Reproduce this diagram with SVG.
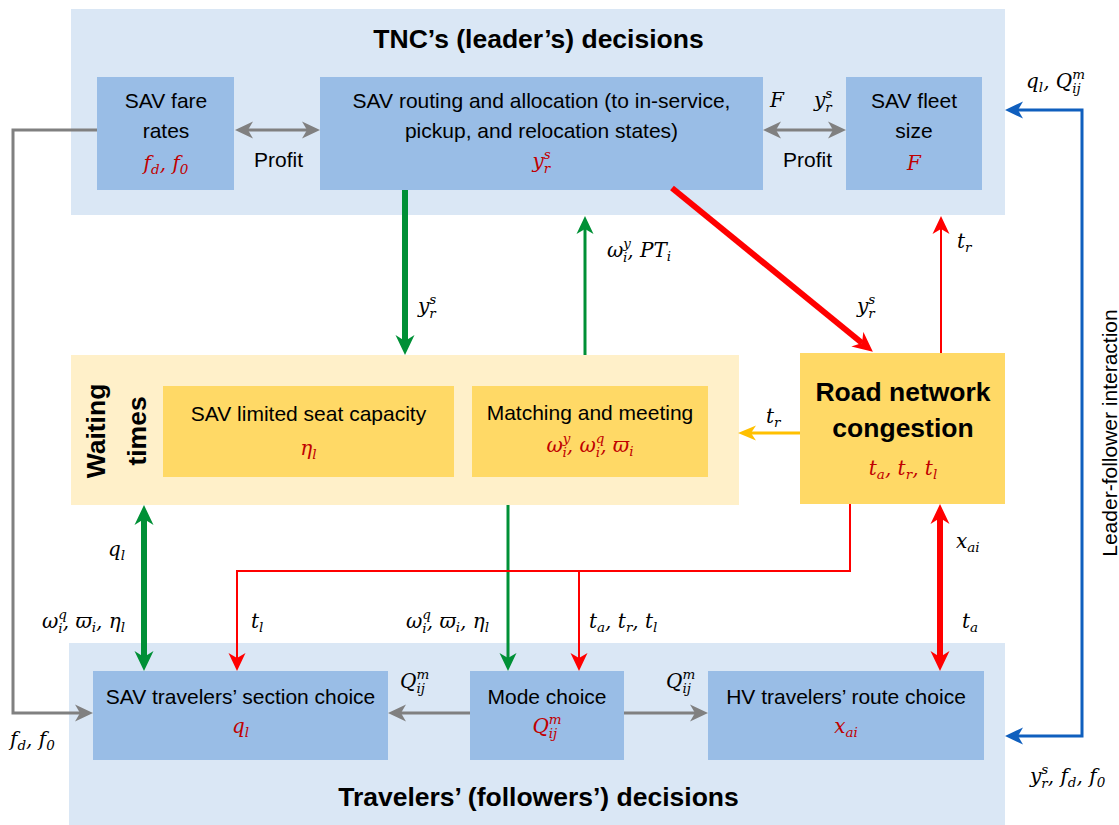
<svg xmlns="http://www.w3.org/2000/svg" width="1119" height="825" viewBox="0 0 1119 825">
  <style>
    .panel{fill:#DAE7F5}
    .bbox{fill:#99BDE6}
    .wpanel{fill:#FFF0C9}
    .ybox{fill:#FFD966}
    text{font-family:"Liberation Sans",Arial,Helvetica,sans-serif;font-size:21px;fill:#000}
    .title{font-weight:bold;font-size:26.5px}
    .m{font-family:"DejaVu Serif","Liberation Serif",serif;font-style:italic;font-size:20px}
    .s{font-size:13.5px}
    .red{fill:#C00000}
    .mid{text-anchor:middle}
    .gray{stroke:#808080;stroke-width:3;fill:none}
    .green{stroke:#009036;stroke-width:3;fill:none}
    .green-w{stroke:#009036;stroke-width:6;fill:none}
    .red-n{stroke:#FF0000;stroke-width:2;fill:none}
    .red-w{stroke:#FF0000;stroke-width:6;fill:none}
    .blue{stroke:#0F5FBE;stroke-width:3;fill:none}
    .amber{stroke:#FFC000;stroke-width:3;fill:none}
  </style>
  <defs>
    <marker id="ah-gray" viewBox="0 0 18 18" refX="5" refY="9" markerWidth="18" markerHeight="18" markerUnits="userSpaceOnUse" orient="auto-start-reverse">
      <path d="M0,0.5 L18,9 L0,17.5 L5,9 Z" fill="#808080"/>
    </marker>
    <marker id="ah-green" viewBox="0 0 18 18" refX="5" refY="9" markerWidth="18" markerHeight="18" markerUnits="userSpaceOnUse" orient="auto-start-reverse">
      <path d="M0,0.5 L18,9 L0,17.5 L5,9 Z" fill="#009036"/>
    </marker>
    <marker id="ah-green-w" viewBox="0 0 20 20" refX="6" refY="10" markerWidth="20" markerHeight="20" markerUnits="userSpaceOnUse" orient="auto-start-reverse">
      <path d="M0,0.5 L20,10 L0,19.5 L6,10 Z" fill="#009036"/>
    </marker>
    <marker id="ah-red" viewBox="0 0 18 18" refX="5" refY="9" markerWidth="18" markerHeight="18" markerUnits="userSpaceOnUse" orient="auto-start-reverse">
      <path d="M0,0.5 L18,9 L0,17.5 L5,9 Z" fill="#FF0000"/>
    </marker>
    <marker id="ah-red-w" viewBox="0 0 20 20" refX="6" refY="10" markerWidth="20" markerHeight="20" markerUnits="userSpaceOnUse" orient="auto-start-reverse">
      <path d="M0,0.5 L20,10 L0,19.5 L6,10 Z" fill="#FF0000"/>
    </marker>
    <marker id="ah-blue" viewBox="0 0 18 18" refX="5" refY="9" markerWidth="18" markerHeight="18" markerUnits="userSpaceOnUse" orient="auto-start-reverse">
      <path d="M0,0.5 L18,9 L0,17.5 L5,9 Z" fill="#0F5FBE"/>
    </marker>
    <marker id="ah-amber" viewBox="0 0 18 18" refX="5" refY="9" markerWidth="18" markerHeight="18" markerUnits="userSpaceOnUse" orient="auto-start-reverse">
      <path d="M0,1.5 L18,9 L0,16.5 L5,9 Z" fill="#FFC000"/>
    </marker>
  </defs>

  <!-- leader panel -->
  <g id="leader-panel">
    <rect class="panel" x="71" y="9" width="934" height="206"/>
    <text class="title mid" x="538.5" y="48">TNC’s (leader’s) decisions</text>
  </g>

  <g id="fare-rates">
    <rect class="bbox" x="97" y="77" width="137" height="113"/>
    <text class="mid" x="166" y="108">SAV fare</text>
    <text class="mid" x="166" y="138">rates</text>
    <text class="m red mid" x="166" y="170">f<tspan class="s" dy="4">d</tspan><tspan dy="-4">, f</tspan><tspan class="s" dy="4">0</tspan></text>
  </g>

  <g id="routing">
    <rect class="bbox" x="320" y="77" width="443" height="113"/>
    <text class="mid" x="541.5" y="108">SAV routing and allocation (to in-service,</text>
    <text class="mid" x="541.5" y="138">pickup, and relocation states)</text>
    <text class="m red mid" x="541.5" y="168">y<tspan class="s" dy="-9">s</tspan><tspan class="s" dx="-7" dy="14">r</tspan></text>
  </g>

  <g id="fleet-size">
    <rect class="bbox" x="846" y="77" width="136" height="113"/>
    <text class="mid" x="914" y="108">SAV fleet</text>
    <text class="mid" x="914" y="138">size</text>
    <text class="m red mid" x="914" y="170">F</text>
  </g>

  <!-- waiting times panel -->
  <g id="waiting-times">
    <rect class="wpanel" x="71" y="355" width="668" height="150"/>
    <text class="title mid" transform="translate(105,431) rotate(-90)">Waiting</text>
    <text class="title mid" transform="translate(146,431) rotate(-90)">times</text>
  </g>

  <g id="seat-capacity">
    <rect class="ybox" x="163" y="386" width="291" height="91"/>
    <text class="mid" x="308.5" y="421">SAV limited seat capacity</text>
    <text class="m red mid" x="308.5" y="455">η<tspan class="s" dy="4">l</tspan></text>
  </g>

  <g id="matching">
    <rect class="ybox" x="472" y="386" width="236" height="91"/>
    <text class="mid" x="590" y="420">Matching and meeting</text>
    <text class="m red mid" x="590" y="452">ω<tspan class="s" dy="-9">y</tspan><tspan class="s" dx="-8" dy="14">i</tspan><tspan dy="-5">, ω</tspan><tspan class="s" dy="-9">q</tspan><tspan class="s" dx="-8.6" dy="14">i</tspan><tspan dy="-5">, ϖ</tspan><tspan class="s" dy="4">i</tspan></text>
  </g>

  <g id="road-congestion">
    <rect class="ybox" x="800" y="353" width="205" height="151"/>
    <text class="title mid" x="903" y="401">Road network</text>
    <text class="title mid" x="903" y="437">congestion</text>
    <text class="m red mid" x="903" y="475">t<tspan class="s" dy="4">a</tspan><tspan dy="-4">, t</tspan><tspan class="s" dy="4">r</tspan><tspan dy="-4">, t</tspan><tspan class="s" dy="4">l</tspan></text>
  </g>

  <!-- follower panel -->
  <g id="follower-panel">
    <rect class="panel" x="69" y="643" width="936" height="182"/>
    <text class="title mid" x="538.5" y="806">Travelers’ (followers’) decisions</text>
  </g>

  <g id="section-choice">
    <rect class="bbox" x="93" y="671" width="295" height="89"/>
    <text class="mid" x="240.5" y="704">SAV travelers’ section choice</text>
    <text class="m red mid" x="240.5" y="733">q<tspan class="s" dy="4">l</tspan></text>
  </g>

  <g id="mode-choice">
    <rect class="bbox" x="470" y="671" width="154" height="89"/>
    <text class="mid" x="547" y="704">Mode choice</text>
    <text class="m red mid" x="547" y="733">Q<tspan class="s" dy="-9">m</tspan><tspan class="s" dx="-12.8" dy="14">ij</tspan></text>
  </g>

  <g id="route-choice">
    <rect class="bbox" x="708" y="671" width="276" height="89"/>
    <text class="mid" x="846" y="704">HV travelers’ route choice</text>
    <text class="m red mid" x="846" y="733">x<tspan class="s" dy="4">ai</tspan></text>
  </g>

  <!-- connectors -->
  <g id="connectors">
    <path class="gray" d="M248,130 H307" marker-start="url(#ah-gray)" marker-end="url(#ah-gray)"/>
    <path class="gray" d="M776,130 H833" marker-start="url(#ah-gray)" marker-end="url(#ah-gray)"/>
    <path class="gray" d="M97,130 H13 V713 H80" marker-end="url(#ah-gray)"/>
    <path class="gray" d="M470,713 H401" marker-end="url(#ah-gray)"/>
    <path class="gray" d="M624,713 H695" marker-end="url(#ah-gray)"/>

    <path class="green-w" d="M405,190 V341" marker-end="url(#ah-green-w)"/>
    <path class="green" d="M585,355 V229" marker-end="url(#ah-green)"/>
    <path class="green" d="M508,505 V658" marker-end="url(#ah-green)"/>
    <path class="green-w" d="M144,519 V657" marker-start="url(#ah-green-w)" marker-end="url(#ah-green-w)"/>

    <path class="red-w" d="M672,188 L862,343" marker-end="url(#ah-red-w)"/>
    <path class="red-n" d="M941,353 V229" marker-end="url(#ah-red)"/>
    <path class="red-n" d="M850,504 V571 H237 V658" marker-end="url(#ah-red)"/>
    <path class="red-n" d="M579,571 V658" marker-end="url(#ah-red)"/>
    <path class="red-w" d="M940,518 V657" marker-start="url(#ah-red-w)" marker-end="url(#ah-red-w)"/>

    <path class="amber" d="M800,433 H751" marker-end="url(#ah-amber)"/>

    <path class="blue" d="M1018,110 H1082 V736 H1018" marker-start="url(#ah-blue)" marker-end="url(#ah-blue)"/>
  </g>

  <!-- connector labels -->
  <g id="connector-labels">
    <text x="278.5" y="167" class="mid">Profit</text>
    <text x="807.5" y="167" class="mid">Profit</text>
    <text class="m" x="770" y="107">F</text>
    <text class="m" x="814" y="107">y<tspan class="s" dy="-9">s</tspan><tspan class="s" dx="-7" dy="14">r</tspan></text>

    <text class="m" x="418" y="313">y<tspan class="s" dy="-9">s</tspan><tspan class="s" dx="-7" dy="14">r</tspan></text>
    <text class="m" x="607" y="257">ω<tspan class="s" dy="-9">y</tspan><tspan class="s" dx="-8" dy="14">i</tspan><tspan dy="-5">, PT</tspan><tspan class="s" dy="4">i</tspan></text>
    <text class="m" x="857" y="313">y<tspan class="s" dy="-9">s</tspan><tspan class="s" dx="-7" dy="14">r</tspan></text>
    <text class="m" x="957" y="248">t<tspan class="s" dy="4">r</tspan></text>
    <text class="m" x="766" y="423">t<tspan class="s" dy="4">r</tspan></text>

    <text class="m" x="108" y="556">q<tspan class="s" dy="4">l</tspan></text>
    <text class="m" x="956" y="548">x<tspan class="s" dy="4">ai</tspan></text>
    <text class="m" x="42" y="628">ω<tspan class="s" dy="-9">q</tspan><tspan class="s" dx="-8.6" dy="14">i</tspan><tspan dy="-5">, ϖ</tspan><tspan class="s" dy="4">i</tspan><tspan dy="-4">, η</tspan><tspan class="s" dy="4">l</tspan></text>
    <text class="m" x="251" y="628">t<tspan class="s" dy="4">l</tspan></text>
    <text class="m" x="406" y="628">ω<tspan class="s" dy="-9">q</tspan><tspan class="s" dx="-8.6" dy="14">i</tspan><tspan dy="-5">, ϖ</tspan><tspan class="s" dy="4">i</tspan><tspan dy="-4">, η</tspan><tspan class="s" dy="4">l</tspan></text>
    <text class="m" x="589" y="628">t<tspan class="s" dy="4">a</tspan><tspan dy="-4">, t</tspan><tspan class="s" dy="4">r</tspan><tspan dy="-4">, t</tspan><tspan class="s" dy="4">l</tspan></text>
    <text class="m" x="962" y="628">t<tspan class="s" dy="4">a</tspan></text>

    <text class="m" x="400" y="688">Q<tspan class="s" dy="-9">m</tspan><tspan class="s" dx="-12.8" dy="14">ij</tspan></text>
    <text class="m" x="666" y="688">Q<tspan class="s" dy="-9">m</tspan><tspan class="s" dx="-12.8" dy="14">ij</tspan></text>
    <text class="m" x="10" y="746">f<tspan class="s" dy="4">d</tspan><tspan dy="-4">, f</tspan><tspan class="s" dy="4">0</tspan></text>

    <text class="m" x="1026" y="88">q<tspan class="s" dy="4">l</tspan><tspan dy="-4">, Q</tspan><tspan class="s" dy="-9">m</tspan><tspan class="s" dx="-12.8" dy="14">ij</tspan></text>
    <text class="m" x="1030" y="783">y<tspan class="s" dy="-9">s</tspan><tspan class="s" dx="-7" dy="14">r</tspan><tspan dy="-5">, f</tspan><tspan class="s" dy="4">d</tspan><tspan dy="-4">, f</tspan><tspan class="s" dy="4">0</tspan></text>
    <text class="mid" transform="translate(1117,433) rotate(-90)">Leader-follower interaction</text>
  </g>
</svg>
